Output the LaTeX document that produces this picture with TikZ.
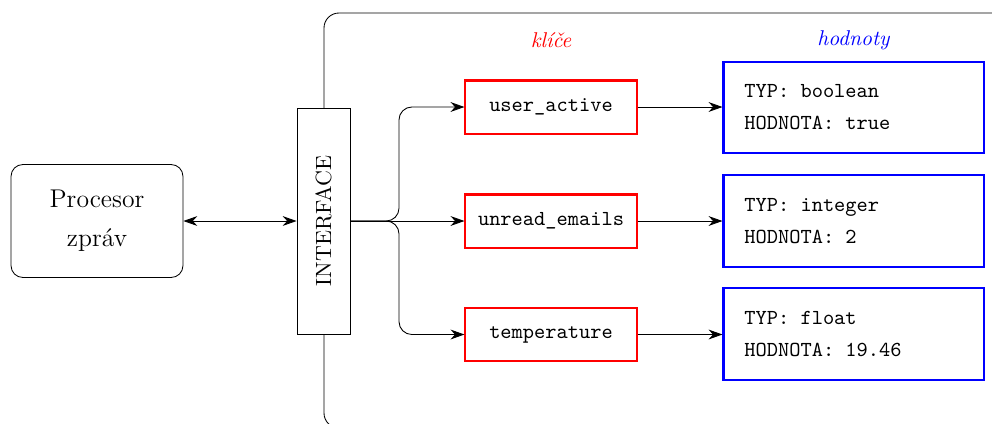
\documentclass[tikz,border=0pt]{standalone}
\usetikzlibrary{arrows.meta}
% fixed one-character gap in monospaced text
\newcommand{\tgap}{\hspace*{0.525em}}
\begin{document}
\begin{tikzpicture}[x=0.4676pt, y=-0.4676pt,
  arr/.style={-{Stealth[length=6.5pt,width=4.6pt]}},
  dblarr/.style={{Stealth[length=6.5pt,width=4.6pt]}-{Stealth[length=6.5pt,width=4.6pt]}},
  procbox/.style={draw, rounded corners=5.5pt, minimum width=80.4pt, minimum height=52.8pt,
                  align=center, font=\large, inner sep=0pt},
  ifacebox/.style={draw, fill=white, minimum width=24.8pt, minimum height=105.7pt, inner sep=0pt},
  keybox/.style={draw=red, line width=0.95pt, minimum width=80pt, minimum height=24.8pt, inner sep=0pt,
                 font=\ttfamily},
  valbox/.style={draw=blue, line width=0.95pt, text width=102pt, inner xsep=9.8pt, inner ysep=0pt,
                 minimum height=42.6pt, align=left, font=\ttfamily},
  collabel/.style={font=\itshape},
  branch/.style={arr, rounded corners=6pt}
]
\useasboundingbox (0,0) rectangle (992,423);

% enclosing frame of the storage, open to the right and bottom
\begin{scope}
  \clip (0,0) rectangle (992,423);
  \draw[rounded corners=7pt] (324,13) rectangle (1100,428);
\end{scope}

% nodes
\node[procbox] (proc) at (97,221) {Procesor\\[4.3pt]zpráv};
\node[ifacebox] (iface) at (323.5,221) {};
\node[rotate=90, font=\fontsize{10.3}{12}\selectfont] (ifacetext) at (iface.center) {INTERFACE};

\node[keybox] (k1) at (551,107) {user\_active};
\node[keybox] (k2) at (551,221) {unread\_emails};
\node[keybox] (k3) at (551,334.5) {temperature};

\node[valbox] (v1) at (853.5,107.5) {TYP:\tgap boolean\\[3pt]HODNOTA:\tgap true};
\node[valbox] (v2) at (853.5,221) {TYP:\tgap integer\\[3pt]HODNOTA:\tgap 2};
\node[valbox] (v3) at (853.5,334) {TYP:\tgap float\\[3pt]HODNOTA:\tgap 19.46};

\node[collabel, text=red] (lkeys) at (551,40) {klíče};
\node[collabel, text=blue] (lvals) at (853.5,40) {hodnoty};

% connectors
\draw[dblarr] (proc.east) -- (iface.west);

\coordinate (split) at (399,221);
\draw[branch] (iface.east) -- (split) |- (k1.west);
\draw[arr] (iface.east) -- (k2.west);
\draw[branch] (iface.east) -- (split) |- (k3.west);

\draw[arr] (k1.east) -- (v1.west |- k1.east);
\draw[arr] (k2.east) -- (v2.west |- k2.east);
\draw[arr] (k3.east) -- (v3.west |- k3.east);
\end{tikzpicture}
\end{document}
